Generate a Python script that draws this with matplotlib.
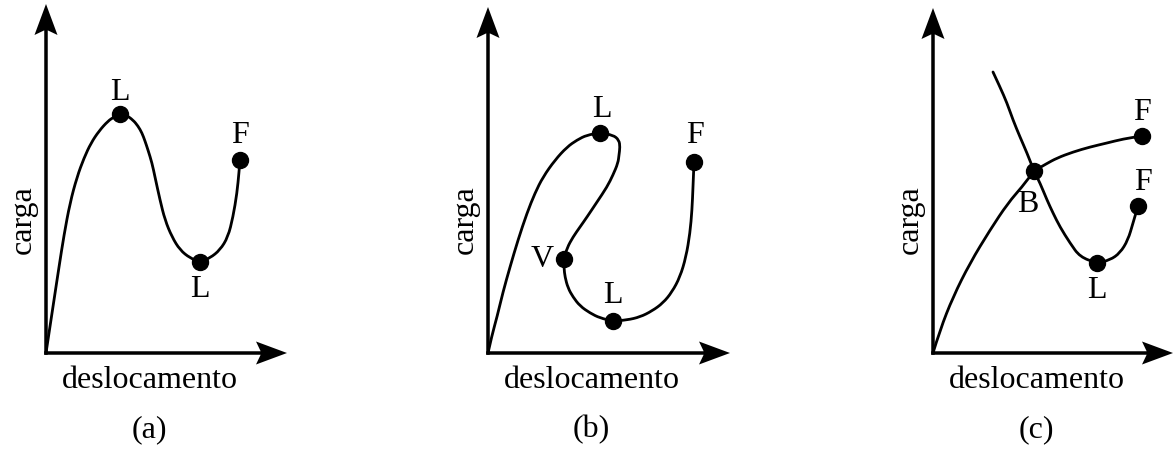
import matplotlib.pyplot as plt
from matplotlib.path import Path
from matplotlib.patches import PathPatch

plt.rcParams['font.family'] = ['Liberation Serif', 'DejaVu Serif']

# (a) snap-through: limit points L and final point F
a_desloc = [0, 3, 8, 13, 18, 24, 31, 38, 45, 53, 62, 68, 74, 80, 87, 92, 96, 99,
            102, 106, 109, 114, 119, 126, 134, 144, 154, 164, 174, 182, 187, 191,
            193, 194]
a_carga = [0, 20, 53, 86, 118, 150, 176, 195, 210, 222, 232, 236, 239, 238, 233,
           227, 220, 212, 203, 190, 176, 153, 133, 116, 103, 95, 91, 95, 103, 116,
           136, 160, 181, 193]
a_pontos = [(74, 239), (154, 91), (194, 193)]
a_rotulos = [('L', 74, 253), ('L', 154, 56), ('F', 194, 210)]

# (b) snap-back: limit points L, turning point V
b_desloc = [0, 4, 9, 15, 22, 30, 39, 47, 55, 67, 79, 89, 99, 112, 125, 131, 132,
            131, 130, 125, 119, 109, 99, 92, 85, 79, 76, 76, 77, 80, 85, 92, 102,
            112, 125, 139, 152, 164, 175, 184, 192, 198, 202, 204, 205, 206]
b_carga = [0, 18, 36, 61, 86, 113, 140, 160, 176, 193, 206, 213, 218, 220, 218,
           213, 206, 198, 190, 178, 166, 151, 136, 126, 116, 105, 94, 85, 76, 65,
           56, 47, 40, 35, 32, 33, 36, 42, 50, 61, 76, 96, 120, 143, 166, 191]
b_pontos = [(112, 220), (76, 94), (125, 32), (206, 191)]
b_rotulos = [('L', 114, 236), ('V', 54, 86), ('L', 125, 50), ('F', 207, 210)]

# (c) bifurcation point B with primary and secondary paths
c1_desloc = [0, 7, 20, 37, 57, 75, 89, 101, 113, 124, 140, 157, 174, 190, 209]
c1_carga = [0, 23, 56, 90, 123, 150, 166, 182, 189, 195, 201, 206, 210, 214, 217]
c2_desloc = [60, 67, 74, 80, 87, 94, 101, 107, 114, 120, 127, 137, 147, 164,
             177, 187, 195, 200, 205]
c2_carga = [281, 266, 250, 233, 216, 200, 182, 170, 153, 140, 126, 110, 96, 90,
            93, 100, 113, 130, 147]
c_pontos = [(101, 182), (209, 217), (164, 90), (205, 147)]
c_rotulos = [('F', 209, 233), ('F', 210, 163), ('B', 95, 141), ('L', 164, 55)]

W, H = 1176, 450
fig = plt.figure(figsize=(W / 100, H / 100), dpi=100)

# origin of each panel in pixels (x from left, y from top)
origens = [(46, 353), (488, 353), (933, 353)]
pontas = [(241, 349), (242, 346), (240, 345)]
paineis = ['(a)', '(b)', '(c)']


def curva(ax, xs, ys):
    # smooth stroke: quadratic segments between midpoints of the given points
    pts = list(zip(xs, ys))
    verts = [pts[0]]
    codes = [Path.MOVETO]
    for p, q in zip(pts[1:-1], pts[2:]):
        verts += [p, ((p[0] + q[0]) / 2, (p[1] + q[1]) / 2)]
        codes += [Path.CURVE3, Path.CURVE3]
    verts.append(pts[-1])
    codes.append(Path.LINETO)
    ax.add_patch(PathPatch(Path(verts, codes), fill=False, lw=2.0, ec='black',
                           joinstyle='round', capstyle='round'))


def eixos(ax, direita, topo):
    ax.arrow(-1.75, 0, direita + 1.75, 0, width=3.5, head_width=23, head_length=31,
             length_includes_head=True, overhang=0.15, fc='black', ec='none',
             clip_on=False)
    ax.arrow(0, -1.75, 0, topo + 1.75, width=3.5, head_width=23, head_length=31,
             length_includes_head=True, overhang=0.15, fc='black', ec='none',
             clip_on=False)
    ax.text(-23, 133, 'carga', rotation=90, ha='center', va='center', fontsize=23)
    ax.text(104, -35, 'deslocamento', ha='center', va='baseline', fontsize=23)


def marcas(ax, pontos, rotulos):
    for x, y in pontos:
        ax.plot(x, y, 'o', color='black', ms=11.5)
    for t, x, y in rotulos:
        ax.text(x, y, t, ha='center', va='baseline', fontsize=23)


axes = []
for i, (ox, oy) in enumerate(origens):
    ax = fig.add_axes([i / 3, 0, 1 / 3, 1])
    left_px = i * W / 3
    ax.set_xlim(left_px - ox, left_px + W / 3 - ox)
    ax.set_ylim(oy - H, oy)
    ax.axis('off')
    eixos(ax, *pontas[i])
    ax.text(103, -84, paineis[i], ha='center', va='baseline', fontsize=23)
    axes.append(ax)

curva(axes[0], a_desloc, a_carga)
marcas(axes[0], a_pontos, a_rotulos)

curva(axes[1], b_desloc, b_carga)
marcas(axes[1], b_pontos, b_rotulos)

curva(axes[2], c1_desloc, c1_carga)
curva(axes[2], c2_desloc, c2_carga)
marcas(axes[2], c_pontos, c_rotulos)

fig.savefig('out.png', dpi=100)
